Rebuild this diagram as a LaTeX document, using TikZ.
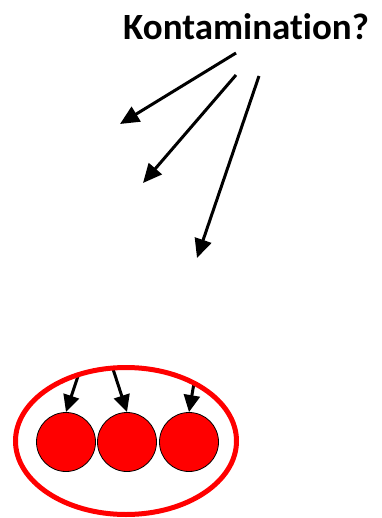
\documentclass[tikz,border=0pt]{standalone}
\usepackage{fontspec}
\setmainfont[RawFeature={-liga}]{Carlito}
\usetikzlibrary{positioning,arrows.meta,shapes.geometric}

\begin{document}
\begin{tikzpicture}[
  x=1pt, y=-1pt,
  cell/.style={circle, draw=black, line width=0.8pt, fill=red, minimum size=59pt, inner sep=0pt},
  pool/.style={ellipse, draw=red, line width=5pt, minimum width=221pt, minimum height=147pt, inner sep=0pt},
  arr/.style={line width=3pt, -{Triangle[length=19pt,width=17pt]}},
  sarr/.style={line width=3pt, -{Triangle[length=17pt,width=16pt]}}]
\useasboundingbox (0,0) rectangle (381,518);
\node[font=\bfseries\fontsize{37}{44}\selectfont] (kon) at (246,27) {Kontamination?};
\coordinate (s1) at (236,53);
\coordinate (s2) at (236,75);
\coordinate (s3) at (259,76);
\coordinate (e1) at (120,124);
\coordinate (e2) at (143,183);
\coordinate (e3) at (197,258);
\draw[arr] (s1) -- (e1);
\draw[arr] (s2) -- (e2);
\draw[arr] (s3) -- (e3);
\node[cell] (c1) at (66,442) {};
\node[cell] (c2) at (127,442) {};
\node[cell] (c3) at (189,442) {};
\coordinate (t1) at (78,376);
\coordinate (t2) at (113,369);
\coordinate (t3) at (194,383);
\draw[sarr] (t1) -- (c1.north);
\draw[sarr] (t2) -- (c2.north);
\draw[sarr] (t3) -- (c3.north);
\node[pool] (zelle) at (126,441) {};
\end{tikzpicture}
\end{document}
